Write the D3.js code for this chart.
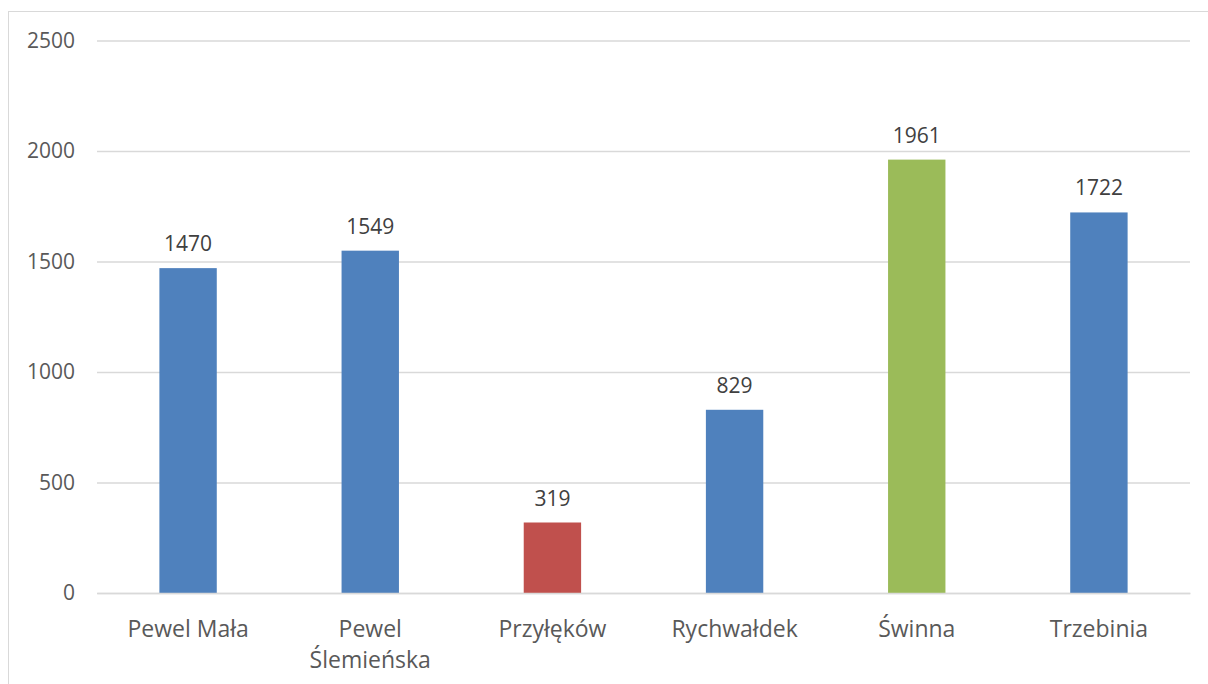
<!DOCTYPE html>
<html><head><meta charset="utf-8">
<script src="https://cdn.jsdelivr.net/npm/d3@7"></script>
<style>body{margin:0;background:#fff}svg{display:block}</style>
</head><body>
<svg id="c" width="1208" height="684"></svg>
<script>
const categories = ["Pewel Mała", "Pewel\nŚlemieńska", "Przyłęków", "Rychwałdek", "Świnna", "Trzebinia"];
const values = [1470, 1549, 319, 829, 1961, 1722];
const barColors = ["#4F81BD", "#4F81BD", "#C0504D", "#4F81BD", "#9BBB59", "#4F81BD"];
const yTicks = [0, 500, 1000, 1500, 2000, 2500];

const svg = d3.select("#c");
const font = "'Open Sans', sans-serif";
svg.append("rect").attr("x", 8.5).attr("y", 11.5).attr("width", 1250).attr("height", 700)
  .attr("fill", "#fff").attr("stroke", "#D9D9D9").attr("stroke-width", 1);

const L = 97, R = 1190, T = 40.5, B = 593;
const x = d3.scaleBand().domain(categories).range([L, R]).paddingInner(0.685).paddingOuter(0.3425);
const y = d3.scaleLinear().domain([0, 2500]).range([B, T]);

const yAxis = svg.append("g").attr("transform", `translate(${L},0)`)
  .call(d3.axisLeft(y).tickValues(yTicks).tickFormat(d3.format("d")).tickSize(-(R - L)).tickPadding(22));
yAxis.select(".domain").remove();
yAxis.selectAll(".tick line").attr("stroke", "#D9D9D9").attr("stroke-width", 1.3);
yAxis.selectAll(".tick text").attr("fill", "#595959").attr("font-family", font).attr("font-size", 21);

svg.selectAll("rect.bar").data(values).join("rect").attr("class", "bar")
  .attr("x", (d, i) => x(categories[i])).attr("width", x.bandwidth())
  .attr("y", d => y(d)).attr("height", d => B - y(d))
  .attr("fill", (d, i) => barColors[i]);

svg.selectAll("text.val").data(values).join("text").attr("class", "val")
  .attr("x", (d, i) => x(categories[i]) + x.bandwidth() / 2)
  .attr("y", d => y(d) - 17)
  .attr("text-anchor", "middle").attr("fill", "#404040")
  .attr("font-family", font).attr("font-size", 21).text(d => d);

const xAxis = svg.append("g").attr("transform", `translate(0,${B})`)
  .call(d3.axisBottom(x).tickSize(0).tickFormat(""));
xAxis.select(".domain").attr("stroke", "#D9D9D9").attr("stroke-width", 1.3);
xAxis.selectAll(".tick").each(function(d) {
  const lines = d.split("\n");
  const t = d3.select(this).append("text").attr("fill", "#595959").attr("text-anchor", "middle")
    .attr("font-family", font).attr("font-size", 23);
  lines.forEach((ln, i) => t.append("tspan").attr("x", 0).attr("y", 44 + i * 31).text(ln));
});
</script>
</body></html>
